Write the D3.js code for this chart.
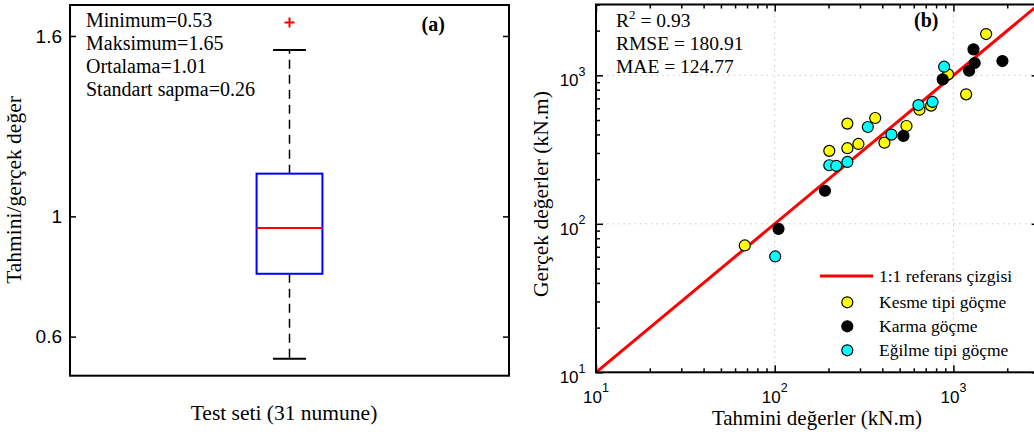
<html>
<head>
  <title>Tahmini / gercek deger</title>
  <script src="https://d3js.org/d3.v7.min.js"></script>
  <style>
    body { margin: 0; background: #fff; }
    .serif { font-family: "Liberation Serif", "Times New Roman", serif; }
    .sans { font-family: "Liberation Sans", Arial, sans-serif; }
    .axis .domain { stroke: none; }
    .axis line { stroke: #000; stroke-width: 1.5px; }
    .grid { stroke: #c8c8c8; stroke-width: 1px; stroke-dasharray: 1.5,4; }
  </style>
</head>
<body>
  <svg id="chart" width="1034" height="436"></svg>
  <script>
    // ---- panel (a): ratio boxplot ----
    const statLines = ["Minimum=0.53", "Maksimum=1.65", "Ortalama=1.01", "Standart sapma=0.26"];
    // lower whisker, q1, median, q3, upper whisker
    const boxValues = [0.526, 0.809, 0.961, 1.142, 1.553];
    const outliers = [1.645];
    const ratioTicks = [0.6, 1, 1.6];

    // ---- panel (b): predicted vs actual (kN.m) ----
    const seriesNames = ["Kesme tipi göçme", "Karma göçme", "Eğilme tipi göçme"];
    const seriesColors = ["#ffff00", "#000000", "#00ffff"];
    const kesmePred = [68, 202, 255, 255, 294, 365, 411, 546, 646, 750, 933, 1178, 1524];
    const kesmeReal = [71.5, 310, 473, 323, 345, 516, 352, 456, 587, 625, 1016, 745, 1897];
    const karmaPred = [105, 191, 525, 871, 1224, 1315, 1295, 1880];
    const karmaReal = [92.5, 167, 391, 940, 1074, 1211, 1496, 1248];
    const egilmePred = [100.6, 202, 221, 255, 332, 450, 637, 764, 887];
    const egilmeReal = [60.3, 248, 246, 261, 449, 399, 631, 662, 1143];
    const statsB = ["RMSE = 180.91", "MAE = 124.77"];
    const logMajor = [10, 100, 1000];

    const svg = d3.select("#chart");

    // ================= panel (a) =================
    const pa = {left: 70, right: 509, top: 5, bottom: 375.7};
    const yRatio = d3.scaleLinear().domain([0.47, 1.703]).range([pa.bottom, pa.top]);
    const xRatio = d3.scaleLinear().domain([0.5, 1.5]).range([pa.left, pa.right]);
    const panelA = svg.append("g").attr("id", "panelA");

    panelA.append("g").attr("class", "axis sans")
        .attr("transform", `translate(${pa.left},0)`)
        .call(d3.axisLeft(yRatio).tickValues(ratioTicks).tickSize(-6).tickPadding(8).tickFormat(d => d))
        .selectAll("text").style("font-size", "19px").attr("fill", "#000");
    panelA.append("g").attr("class", "axis")
        .attr("transform", `translate(${pa.right},0)`)
        .call(d3.axisRight(yRatio).tickValues(ratioTicks).tickSize(-6).tickFormat(""));

    const bx = xRatio(1);
    const halfBox = xRatio(1.075) - bx;
    const halfCap = halfBox / 2;
    // whiskers
    [[boxValues[3], boxValues[4]], [boxValues[1], boxValues[0]]].forEach(w => {
        panelA.append("line")
            .attr("x1", bx).attr("x2", bx)
            .attr("y1", yRatio(w[0])).attr("y2", yRatio(w[1]))
            .attr("stroke", "#000").attr("stroke-width", 1.5)
            .attr("stroke-dasharray", "9,6");
    });
    [boxValues[0], boxValues[4]].forEach(v => {
        panelA.append("line")
            .attr("x1", bx - halfCap).attr("x2", bx + halfCap)
            .attr("y1", yRatio(v)).attr("y2", yRatio(v))
            .attr("stroke", "#000").attr("stroke-width", 2);
    });
    panelA.append("rect")
        .attr("x", bx - halfBox).attr("width", 2 * halfBox)
        .attr("y", yRatio(boxValues[3]))
        .attr("height", yRatio(boxValues[1]) - yRatio(boxValues[3]))
        .attr("fill", "none").attr("stroke", "#0000ff").attr("stroke-width", 2);
    panelA.append("line")
        .attr("x1", bx - halfBox).attr("x2", bx + halfBox)
        .attr("y1", yRatio(boxValues[2])).attr("y2", yRatio(boxValues[2]))
        .attr("stroke", "#ff0000").attr("stroke-width", 2);
    outliers.forEach(o => {
        const oy = yRatio(o);
        panelA.append("path")
            .attr("d", `M${bx - 5},${oy}H${bx + 5}M${bx},${oy - 5}V${oy + 5}`)
            .attr("stroke", "#ff0000").attr("stroke-width", 2);
    });

    panelA.append("rect")
        .attr("x", pa.left).attr("y", pa.top)
        .attr("width", pa.right - pa.left).attr("height", pa.bottom - pa.top)
        .attr("fill", "none").attr("stroke", "#000").attr("stroke-width", 2);

    panelA.selectAll("text.stat").data(statLines).join("text")
        .attr("class", "stat serif")
        .attr("x", 86).attr("y", (d, i) => 26.5 + i * 23)
        .style("font-size", "20px").text(d => d);
    panelA.append("text").attr("class", "serif")
        .attr("x", 421.5).attr("y", 30.5)
        .style("font-size", "20px").style("font-weight", "bold").text("(a)");
    panelA.append("text").attr("class", "serif")
        .attr("x", 284).attr("y", 420).attr("text-anchor", "middle")
        .style("font-size", "21.5px").text("Test seti (31 numune)");
    panelA.append("text").attr("class", "serif")
        .attr("transform", "translate(21,190) rotate(-90)")
        .attr("text-anchor", "middle")
        .style("font-size", "21.5px").text("Tahmini/gerçek değer");

    // ================= panel (b) =================
    const pb = {left: 596, right: 1038.7, top: 4.5, bottom: 372.3};
    const xLog = d3.scaleLog().domain([10, 3000]).range([pb.left, pb.right]);
    const yLog = d3.scaleLog().domain([10, 3000]).range([pb.bottom, pb.top]);
    const panelB = svg.append("g").attr("id", "panelB");
    const minorTicks = xLog.ticks().filter(t => !logMajor.includes(t));

    // grid
    logMajor.slice(1).forEach(v => {
        panelB.append("line").attr("class", "grid")
            .attr("x1", xLog(v)).attr("x2", xLog(v)).attr("y1", pb.top).attr("y2", pb.bottom);
        panelB.append("line").attr("class", "grid")
            .attr("x1", pb.left).attr("x2", pb.right).attr("y1", yLog(v)).attr("y2", yLog(v));
    });

    // ticks on four sides
    const tickSets = [[logMajor, 7], [minorTicks, 4]];
    tickSets.forEach(([vals, len]) => {
        panelB.append("g").attr("class", "axis")
            .attr("transform", `translate(0,${pb.bottom})`)
            .call(d3.axisBottom(xLog).tickValues(vals).tickSize(-len).tickFormat(""));
        panelB.append("g").attr("class", "axis")
            .attr("transform", `translate(0,${pb.top})`)
            .call(d3.axisTop(xLog).tickValues(vals).tickSize(-len).tickFormat(""));
        panelB.append("g").attr("class", "axis")
            .attr("transform", `translate(${pb.left},0)`)
            .call(d3.axisLeft(yLog).tickValues(vals).tickSize(-len).tickFormat(""));
        panelB.append("g").attr("class", "axis")
            .attr("transform", `translate(${pb.right},0)`)
            .call(d3.axisRight(yLog).tickValues(vals).tickSize(-len).tickFormat(""));
    });

    // power-of-ten labels
    function powerLabel(g, v) {
        g.append("tspan").text("10");
        g.append("tspan").attr("dy", -10.5).style("font-size", "12.5px").text(Math.round(Math.log10(v)));
    }
    logMajor.forEach(v => {
        const tb = panelB.append("text").attr("class", "sans")
            .attr("x", xLog(v)).attr("y", 402.5).attr("text-anchor", "middle")
            .style("font-size", "17px");
        powerLabel(tb, v);
        const tl = panelB.append("text").attr("class", "sans")
            .attr("x", 585.5).attr("y", yLog(v) + 11).attr("text-anchor", "end")
            .style("font-size", "17px");
        powerLabel(tl, v);
    });

    // 1:1 line
    panelB.append("line")
        .attr("x1", xLog(10)).attr("y1", yLog(10))
        .attr("x2", xLog(3000)).attr("y2", yLog(3000))
        .attr("stroke", "#ff0000").attr("stroke-width", 3);

    // points
    const series = [[kesmePred, kesmeReal], [karmaPred, karmaReal], [egilmePred, egilmeReal]];
    series.forEach(([px, py], s) => {
        panelB.append("g").selectAll("circle").data(px).join("circle")
            .attr("cx", d => xLog(d))
            .attr("cy", (d, i) => yLog(py[i]))
            .attr("r", 5.5)
            .attr("fill", seriesColors[s])
            .attr("stroke", "#000").attr("stroke-width", 1.2);
    });

    panelB.append("rect")
        .attr("x", pb.left).attr("y", pb.top)
        .attr("width", pb.right - pb.left).attr("height", pb.bottom - pb.top)
        .attr("fill", "none").attr("stroke", "#000").attr("stroke-width", 2);

    // stats text
    const r2 = panelB.append("text").attr("class", "serif")
        .attr("x", 616).attr("y", 27).style("font-size", "19.5px");
    r2.append("tspan").text("R");
    r2.append("tspan").attr("dy", -8).style("font-size", "13px").text("2");
    r2.append("tspan").attr("dy", 8).text(" = 0.93");
    panelB.selectAll("text.statb").data(statsB).join("text")
        .attr("class", "statb serif")
        .attr("x", 616).attr("y", (d, i) => 50 + i * 23)
        .style("font-size", "19.5px").text(d => d);
    panelB.append("text").attr("class", "serif")
        .attr("x", 914).attr("y", 27)
        .style("font-size", "20px").style("font-weight", "bold").text("(b)");

    // legend
    const legend = panelB.append("g").attr("id", "legend");
    legend.append("line")
        .attr("x1", 820).attr("x2", 873).attr("y1", 276).attr("y2", 276)
        .attr("stroke", "#ff0000").attr("stroke-width", 3);
    legend.append("text").attr("class", "serif")
        .attr("x", 879).attr("y", 282).style("font-size", "17.5px").text("1:1 referans çizgisi");
    seriesNames.forEach((name, i) => {
        const ly = 302.3 + i * 24;
        legend.append("circle")
            .attr("cx", 847.3).attr("cy", ly).attr("r", 5.5)
            .attr("fill", seriesColors[i]).attr("stroke", "#000").attr("stroke-width", 1.2);
        legend.append("text").attr("class", "serif")
            .attr("x", 879).attr("y", ly + 6).style("font-size", "17.5px").text(name);
    });

    // axis titles
    panelB.append("text").attr("class", "serif")
        .attr("x", 817).attr("y", 424.5).attr("text-anchor", "middle")
        .style("font-size", "21px").text("Tahmini değerler (kN.m)");
    panelB.append("text").attr("class", "serif")
        .attr("transform", "translate(548,194) rotate(-90)")
        .attr("text-anchor", "middle")
        .style("font-size", "21.5px").text("Gerçek değerler (kN.m)");
  </script>
</body>
</html>
